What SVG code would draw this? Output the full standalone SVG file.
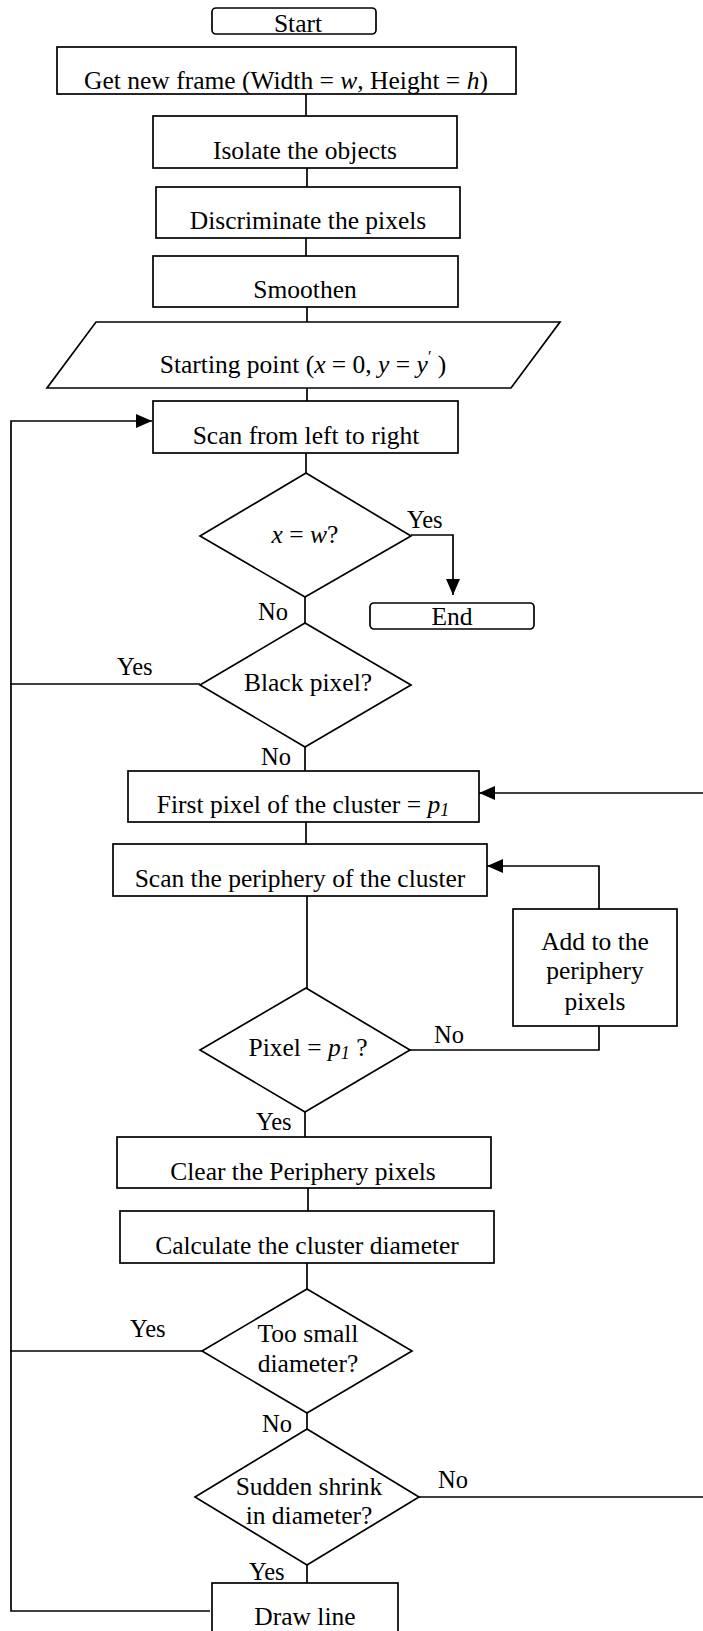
<svg xmlns="http://www.w3.org/2000/svg" width="703" height="1631" viewBox="0 0 703 1631">
<style>
  .box { fill: #fff; stroke: #000; stroke-width: 1.7; }
  .t { font-family: "Liberation Serif", "Times New Roman", serif; font-size: 25.5px; fill: #000; text-anchor: middle; }
  .lb { font-family: "Liberation Serif", "Times New Roman", serif; font-size: 24.5px; fill: #000; }
  .i { font-style: italic; }
  .c { fill: none; stroke: #000; stroke-width: 1.7; }
</style>
<defs>
  <marker id="ah" viewBox="0 0 16 14" refX="16" refY="7" markerWidth="16" markerHeight="14" markerUnits="userSpaceOnUse" orient="auto">
    <path d="M0,0 L16,7 L0,14 z" fill="#000"/>
  </marker>
</defs>
<rect width="703" height="1631" fill="#fff"/>

<g id="connectors">
  <path class="c" d="M306,94 V116"/>
  <path class="c" d="M307,168 V187"/>
  <path class="c" d="M306,238 V256"/>
  <path class="c" d="M307,307 V322"/>
  <path class="c" d="M307,388 V401"/>
  <path class="c" d="M210,1611 H11 V421 H152" marker-end="url(#ah)"/>
  <path class="c" d="M306,453 V473"/>
  <path class="c" d="M411,535 H453 V595" marker-end="url(#ah)"/>
  <path class="c" d="M305,597 V623"/>
  <path class="c" d="M200,684 H10"/>
  <path class="c" d="M305,747 V771"/>
  <path class="c" d="M703,793 H479" marker-end="url(#ah)"/>
  <path class="c" d="M306,822 V844"/>
  <path class="c" d="M307,896 V988"/>
  <path class="c" d="M410,1050 H599 V1026"/>
  <path class="c" d="M599,909 V866 H487" marker-end="url(#ah)"/>
  <path class="c" d="M305,1112 V1137"/>
  <path class="c" d="M308,1188 V1211"/>
  <path class="c" d="M307,1263 V1289"/>
  <path class="c" d="M202,1351 H10"/>
  <path class="c" d="M307,1413 V1429"/>
  <path class="c" d="M419,1497 H703"/>
  <path class="c" d="M307,1565 V1583"/>
</g>

<g id="start">
  <rect class="box" x="212" y="8" width="164" height="26" rx="4"/>
  <text class="t" x="298" y="32">Start</text>
</g>
<g id="get-frame">
  <rect class="box" x="57" y="47" width="459" height="47"/>
  <text class="t" x="286" y="89">Get new frame (Width = <tspan class="i">w</tspan>, Height = <tspan class="i">h</tspan>)</text>
</g>
<g id="isolate">
  <rect class="box" x="153" y="116" width="304" height="52"/>
  <text class="t" x="305" y="159">Isolate the objects</text>
</g>
<g id="discriminate">
  <rect class="box" x="156" y="187" width="304" height="51"/>
  <text class="t" x="308" y="229">Discriminate the pixels</text>
</g>
<g id="smoothen">
  <rect class="box" x="153" y="256" width="305" height="51"/>
  <text class="t" x="305" y="298">Smoothen</text>
</g>
<g id="starting-point">
  <polygon class="box" points="96,322 560,322 511,388 47,388"/>
  <text class="t" x="303" y="373">Starting point (<tspan class="i">x</tspan> = 0, <tspan class="i">y</tspan> = <tspan class="i">y</tspan><tspan font-size="16" dy="-11">′</tspan><tspan dy="11"> )</tspan></text>
</g>
<g id="scan-lr">
  <rect class="box" x="153" y="401" width="305" height="52"/>
  <text class="t" x="306" y="444">Scan from left to right</text>
</g>
<g id="dec-xw">
  <polygon class="box" points="306,473 411,536 305,597 200,536"/>
  <text class="t" x="305" y="543"><tspan class="i">x</tspan> = <tspan class="i">w</tspan>?</text>
</g>
<g id="end">
  <rect class="box" x="370" y="603" width="164" height="26" rx="4"/>
  <text class="t" x="452" y="625">End</text>
</g>
<g id="dec-black">
  <polygon class="box" points="305,623 411,685 305,747 200,685"/>
  <text class="t" x="308" y="691">Black pixel?</text>
</g>
<g id="first-pixel">
  <rect class="box" x="128" y="771" width="351" height="51"/>
  <text class="t" x="303" y="813">First pixel of the cluster = <tspan class="i">p</tspan><tspan class="i" font-size="18" dy="3">1</tspan></text>
</g>
<g id="scan-periphery">
  <rect class="box" x="113" y="844" width="374" height="52"/>
  <text class="t" x="300" y="887">Scan the periphery of the cluster</text>
</g>
<g id="add-periphery">
  <rect class="box" x="513" y="909" width="164" height="117"/>
  <text class="t" x="595" y="950">Add to the</text>
  <text class="t" x="595" y="979">periphery</text>
  <text class="t" x="595" y="1010">pixels</text>
</g>
<g id="dec-pixel">
  <polygon class="box" points="306,988 410,1050 305,1112 200,1050"/>
  <text class="t" x="308" y="1056">Pixel = <tspan class="i">p</tspan><tspan class="i" font-size="18" dy="3">1</tspan><tspan dy="-3"> ?</tspan></text>
</g>
<g id="clear">
  <rect class="box" x="117" y="1137" width="374" height="51"/>
  <text class="t" x="303" y="1180">Clear the Periphery pixels</text>
</g>
<g id="calculate">
  <rect class="box" x="120" y="1211" width="374" height="52"/>
  <text class="t" x="307" y="1254">Calculate the cluster diameter</text>
</g>
<g id="dec-small">
  <polygon class="box" points="307,1289 412,1351 307,1413 202,1351"/>
  <text class="t" x="308" y="1342">Too small</text>
  <text class="t" x="308" y="1372">diameter?</text>
</g>
<g id="dec-shrink">
  <polygon class="box" points="307,1429 419,1497 307,1565 195,1497"/>
  <text class="t" x="309" y="1495">Sudden shrink</text>
  <text class="t" x="309" y="1524">in diameter?</text>
</g>
<g id="draw-line">
  <rect class="box" x="212" y="1583" width="186" height="60"/>
  <text class="t" x="305" y="1625">Draw line</text>
</g>

<g id="labels">
  <text class="lb" x="407" y="528">Yes</text>
  <text class="lb" x="258" y="620">No</text>
  <text class="lb" x="117" y="675">Yes</text>
  <text class="lb" x="261" y="765">No</text>
  <text class="lb" x="434" y="1043">No</text>
  <text class="lb" x="256" y="1130">Yes</text>
  <text class="lb" x="130" y="1337">Yes</text>
  <text class="lb" x="262" y="1432">No</text>
  <text class="lb" x="438" y="1488">No</text>
  <text class="lb" x="249" y="1580">Yes</text>
</g>
</svg>
